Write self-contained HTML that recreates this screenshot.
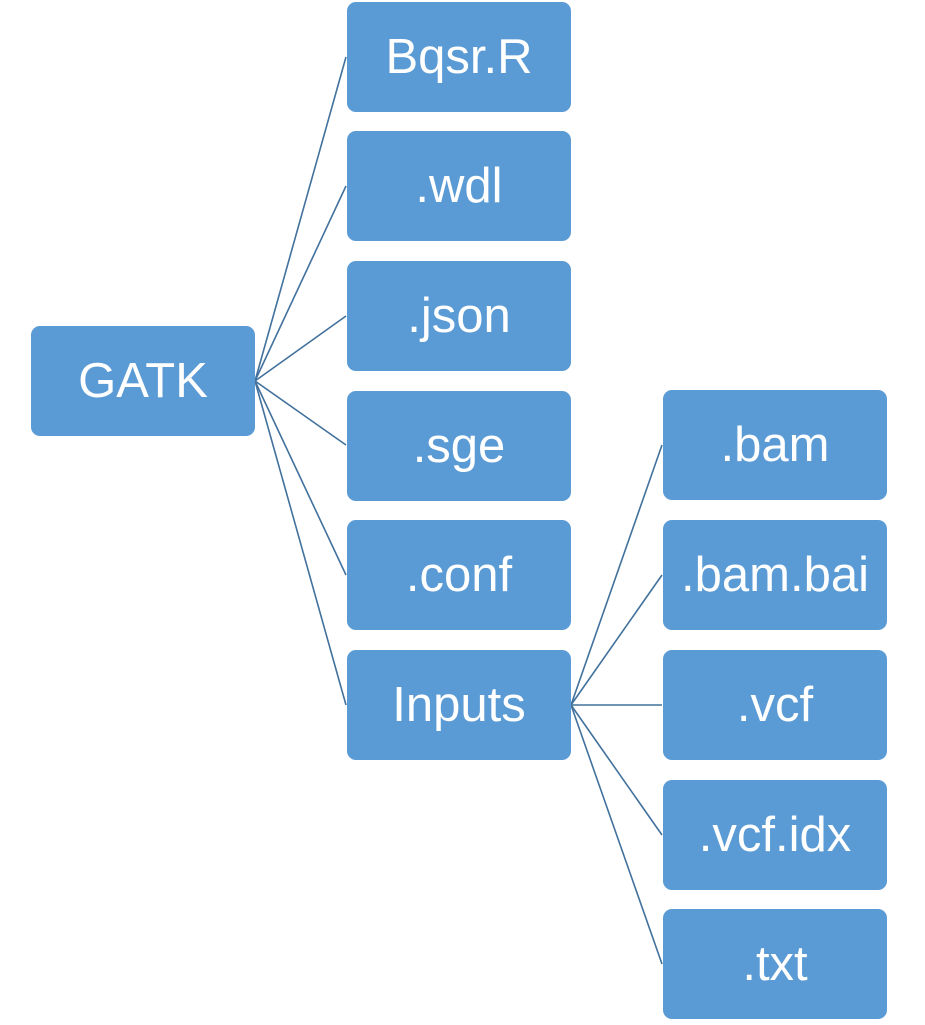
<!DOCTYPE html>
<html><head><style>
body{margin:0;width:925px;height:1025px;background:#fff;position:relative;overflow:hidden;font-family:"Liberation Sans",sans-serif}
.b{position:absolute;width:224px;height:110px;background:#5B9BD5;border-radius:9px;color:#fff;font-size:49px;display:flex;align-items:center;justify-content:center}
svg{position:absolute;left:0;top:0}
</style></head><body>
<svg width="925" height="1025"><g stroke="#41719C" stroke-width="1.6" fill="none">
<line x1="255" y1="381" x2="346" y2="57"/>
<line x1="255" y1="381" x2="346" y2="186"/>
<line x1="255" y1="381" x2="346" y2="316"/>
<line x1="255" y1="381" x2="346" y2="445"/>
<line x1="255" y1="381" x2="346" y2="575"/>
<line x1="255" y1="381" x2="346" y2="705"/>
<line x1="571" y1="705" x2="662" y2="445"/>
<line x1="571" y1="705" x2="662" y2="575"/>
<line x1="571" y1="705" x2="662" y2="705"/>
<line x1="571" y1="705" x2="662" y2="835"/>
<line x1="571" y1="705" x2="662" y2="964"/>
</g></svg>
<div class="b" style="left:31px;top:326px">GATK</div>
<div class="b" style="left:347px;top:2px">Bqsr.R</div>
<div class="b" style="left:347px;top:131px">.wdl</div>
<div class="b" style="left:347px;top:261px">.json</div>
<div class="b" style="left:347px;top:391px">.sge</div>
<div class="b" style="left:347px;top:520px">.conf</div>
<div class="b" style="left:347px;top:650px">Inputs</div>
<div class="b" style="left:663px;top:390px">.bam</div>
<div class="b" style="left:663px;top:520px">.bam.bai</div>
<div class="b" style="left:663px;top:650px">.vcf</div>
<div class="b" style="left:663px;top:780px">.vcf.idx</div>
<div class="b" style="left:663px;top:909px">.txt</div>
</body></html>
